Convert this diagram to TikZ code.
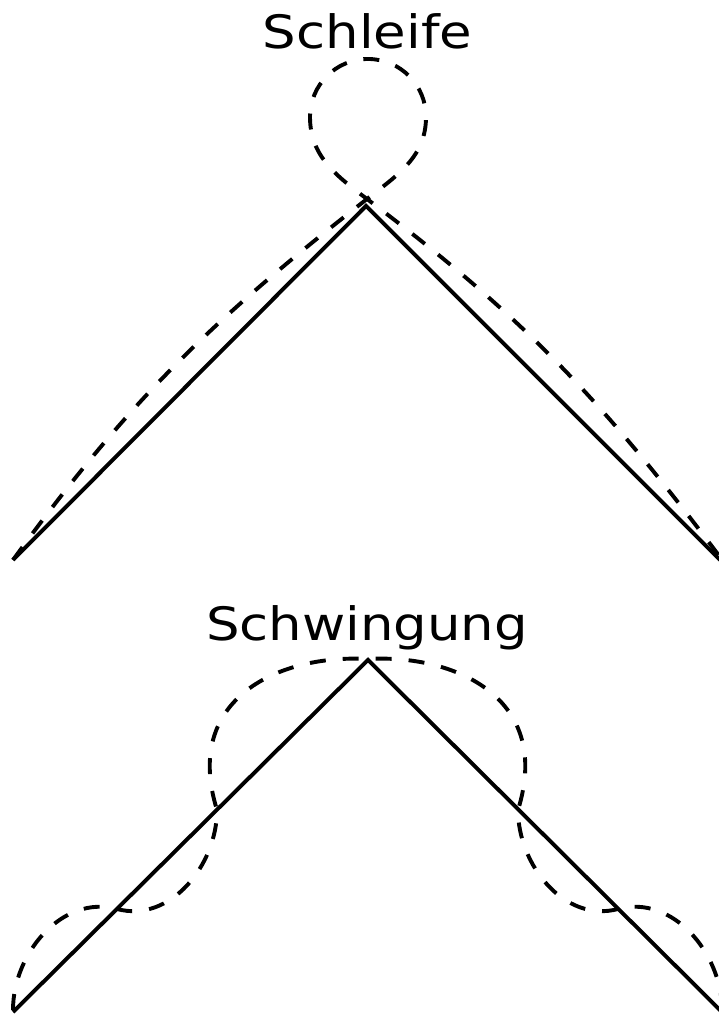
\documentclass[tikz,border=0pt]{standalone}
\usepackage{fontspec}
\setmainfont{DejaVu Sans}
\usetikzlibrary{positioning}
\tikzset{
  bahn/.style={line width=1.95pt, line join=miter},
  spur/.style={line width=1.95pt, dash pattern=on 8pt off 8.5pt},
  titel/.style={font=\fontsize{23}{27}\selectfont, inner sep=0pt, anchor=base,
    xscale=1.15, transform shape}
}

\begin{document}
\begin{tikzpicture}[x=0.5pt, y=0.5pt]
  \useasboundingbox (0,0) rectangle (718,1016);
  % Schleife
  \node[titel] (titelA) at (367.5,967) {Schleife};
  \coordinate (a1) at (13,456);
  \coordinate (a2) at (366,810);
  \coordinate (a3) at (720,456);
  \coordinate (kreuz) at (367,817);
  \coordinate (re) at (426,899);
  \coordinate (ob) at (368,957);
  \coordinate (li) at (310,899);
  \coordinate (aend) at (720,459);
  \draw[bahn] (a1) -- (a2) -- (a3);
  \draw[spur] (a1) to[out=54, in=218] (kreuz)
    to[out=38, in=270] (re) to[out=90, in=0] (ob)
    to[out=180, in=90] (li) to[out=270, in=143] (kreuz)
    to[out=-37, in=127] (aend);
  % Schwingung
  \node[titel] (titelB) at (367,375) {Schwingung};
  \coordinate (b1) at (13,4);
  \coordinate (b2) at (368,356);
  \coordinate (b3) at (722,4);
  \coordinate (p1) at (117,107);
  \coordinate (p2) at (217,206);
  \coordinate (p3) at (368,357);
  \coordinate (p4) at (518,206);
  \coordinate (p5) at (618,107);
  \coordinate (bend) at (722,6);
  \draw[bahn] (b1) -- (b2) -- (b3);
  \draw[spur] (13,6) to[out=90, in=165] (p1) to[out=-15, in=270] (p2)
    .. controls (182,318) and (280,362) .. (p3)
    .. controls (455,362) and (553,318) .. (p4)
    to[out=-90, in=195] (p5) to[out=15, in=90] (bend);
\end{tikzpicture}
\end{document}
